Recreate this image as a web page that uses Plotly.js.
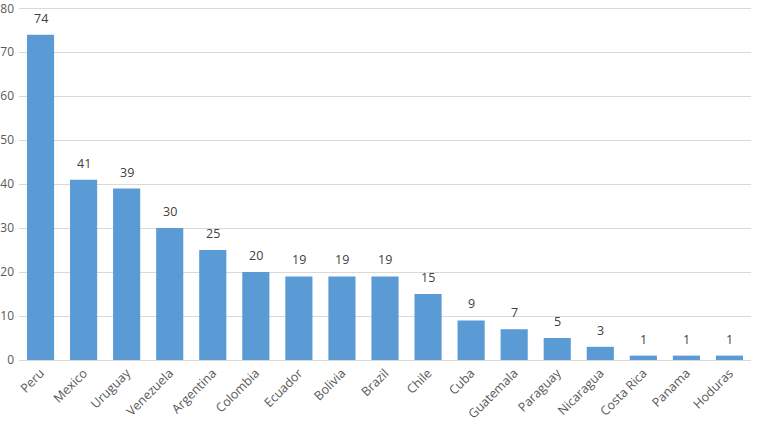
<!DOCTYPE html>
<html><head><meta charset="utf-8">
<script src="https://cdn.plot.ly/plotly-3.0.1.min.js"></script>
<style>html,body{margin:0;padding:0;background:#fff}#chart{width:759px;height:421px}</style>
</head><body><div id="chart"></div>
<script>
const countries = ["Peru","Mexico","Uruguay","Venezuela","Argentina","Colombia","Ecuador","Bolivia","Brazil","Chile","Cuba","Guatemala","Paraguay","Nicaragua","Costa Rica","Panama","Hoduras"];
const counts = [74,41,39,30,25,20,19,19,19,15,9,7,5,3,1,1,1];
const yTicks = [0,10,20,30,40,50,60,70,80];

const trace = {
  type: 'bar', x: countries, y: counts,
  marker: {color: '#5B9BD5'},
  hoverinfo: 'none'
};
const annotations = countries.map((c, i) => ({
  x: c, y: counts[i], xref: 'x', yref: 'y', text: String(counts[i]),
  showarrow: false, yanchor: 'bottom', yshift: 6,
  font: {family: 'Open Sans, sans-serif', size: 12.5, color: '#404040'}
}));
const layout = {
  width: 759, height: 421,
  margin: {l: 19, r: 8, t: 7, b: 61},
  paper_bgcolor: '#fff', plot_bgcolor: '#fff',
  showlegend: false, bargap: 0.37,
  font: {family: 'Open Sans, sans-serif', size: 12.5, color: '#595959'},
  annotations: annotations,
  xaxis: {type: 'category', range: [-0.5, 16.5], tickangle: -45, showgrid: false,
          showline: true, linecolor: '#d9d9d9', linewidth: 1, ticks: '', tickfont: {size: 12.5, color: '#595959'}},
  yaxis: {range: [0, 80.3], tickvals: yTicks, ticktext: yTicks.map(String), showgrid: true, gridcolor: '#d9d9d9',
          zeroline: false, showline: false, ticks: '', ticklabelstandoff: 4, ticklabeloverflow: 'allow',
          tickfont: {size: 12, color: '#595959'}}
};
Plotly.newPlot('chart', [trace], layout, {displayModeBar: false, staticPlot: true});
</script></body></html>
